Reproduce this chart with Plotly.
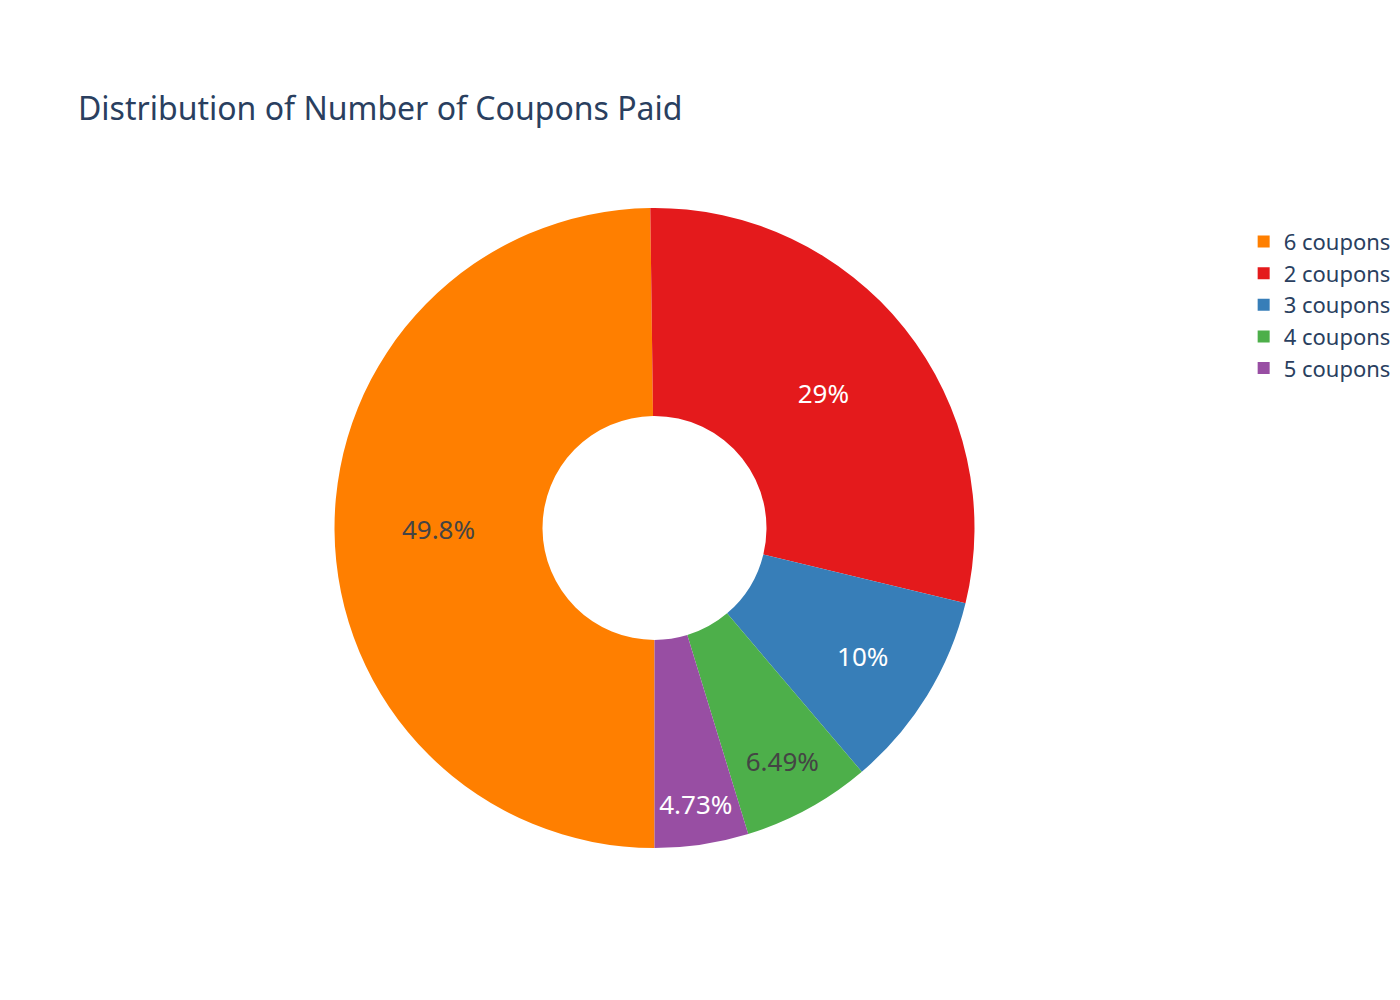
import plotly.graph_objects as go

labels = ["6 coupons", "2 coupons", "3 coupons", "4 coupons", "5 coupons"]
values = [49.8, 29.0, 10.0, 6.49, 4.73]
colors = ["#ff7f00", "#e41a1c", "#377eb8", "#4daf4a", "#984ea3"]

fig = go.Figure(
    go.Pie(
        labels=labels,
        values=values,
        hole=0.35,
        rotation=180,
        direction="clockwise",
        sort=False,
        marker=dict(colors=colors),
        textinfo="percent",
        textfont=dict(size=26),
    )
)
fig.update_layout(
    title=dict(text="Distribution of Number of Coupons Paid", font=dict(size=32),
               x=0.05, y=0.91),
    font=dict(family="Source Sans Pro, Noto Sans, sans-serif", size=22),
    legend=dict(y=0.98),
    margin=dict(t=200, b=160, l=80, r=80),
    width=1400,
    height=1000,
)
fig.write_html("out.html")
